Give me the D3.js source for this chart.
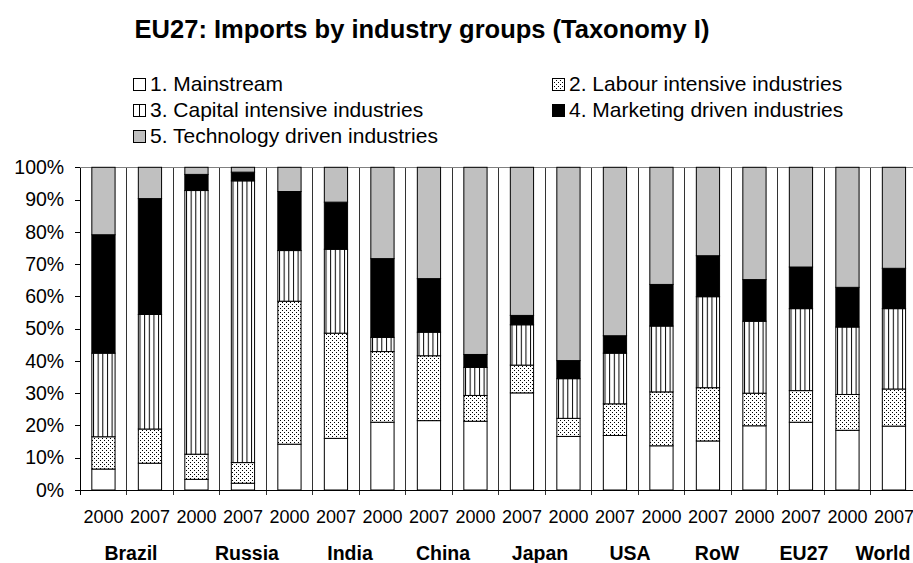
<!DOCTYPE html>
<html>
<head>
<meta charset="utf-8">
<script src="https://cdn.jsdelivr.net/npm/d3@7"></script>
<style>
  html, body { margin: 0; padding: 0; background: #fff; }
  svg { display: block; font-family: "Liberation Sans", Arial, sans-serif; }
</style>
</head>
<body>
<svg id="chart" width="913" height="563"></svg>
<script>
// ---- data ----
const countries = ["Brazil", "Russia", "India", "China", "Japan", "USA", "RoW", "EU27", "World"];
const years = ["2000", "2007"];
const seriesNames = [
  "1. Mainstream",
  "2. Labour intensive industries",
  "3. Capital intensive industries",
  "4. Marketing driven industries",
  "5. Technology driven industries"
];
// shares (%) in order: Brazil 2000, Brazil 2007, Russia 2000, Russia 2007, ...
const mainstream = [6.5, 8.3, 3.3, 2.1, 14.2, 16.0, 21.0, 21.5, 21.3, 30.1, 16.6, 16.9, 13.7, 15.2, 19.9, 21.0, 18.5, 19.8];
const labour     = [10.0, 10.6, 7.8, 6.4, 44.3, 32.6, 21.9, 20.1, 8.0, 8.6, 5.6, 9.8, 16.7, 16.5, 10.1, 9.8, 11.1, 11.5];
const capital    = [25.9, 35.5, 81.7, 87.3, 15.7, 26.0, 4.4, 7.3, 8.7, 12.5, 12.3, 15.7, 20.4, 28.2, 22.3, 25.4, 20.9, 24.9];
const marketing  = [36.7, 35.9, 5.0, 2.7, 18.3, 14.6, 24.4, 16.6, 4.0, 2.9, 5.6, 5.4, 12.9, 12.7, 12.9, 12.9, 12.3, 12.5];
const technology = [20.9, 9.7, 2.2, 1.5, 7.5, 10.8, 28.3, 34.5, 58.0, 45.9, 59.9, 52.2, 36.3, 27.4, 34.8, 30.9, 37.2, 31.3];
const yTickValues = [0, 10, 20, 30, 40, 50, 60, 70, 80, 90, 100];

// ---- layout ----
const svg = d3.select("#chart");
const plotL = 80.2, plotR = 917.2, plotT = 167.3, plotB = 490;

const keys = ["s1", "s2", "s3", "s4", "s5"];
const rows = [];
countries.forEach((c, ci) => years.forEach((yr, yi) => {
  const i = ci * 2 + yi;
  rows.push({ id: c + " " + yr, country: c, year: yr,
    s1: mainstream[i], s2: labour[i], s3: capital[i], s4: marketing[i], s5: technology[i] });
}));

const x = d3.scaleBand().domain(rows.map(d => d.id)).range([plotL, plotR]).paddingInner(0).paddingOuter(0);
const y = d3.scaleLinear().domain([0, 100]).range([plotB, plotT]);
const bw = x.bandwidth() * 0.5;

// ---- patterns ----
const defs = svg.append("defs");
const dots = defs.append("pattern").attr("id", "dots").attr("patternUnits", "userSpaceOnUse")
  .attr("width", 4).attr("height", 4);
dots.append("rect").attr("width", 4).attr("height", 4).attr("fill", "#fff");
dots.append("rect").attr("x", 0).attr("y", 0).attr("width", 1).attr("height", 1).attr("fill", "#000");
dots.append("rect").attr("x", 2).attr("y", 2).attr("width", 1).attr("height", 1).attr("fill", "#000");

const stripes = defs.append("pattern").attr("id", "stripes").attr("patternUnits", "userSpaceOnUse")
  .attr("width", 4.65).attr("height", 10);
stripes.append("rect").attr("width", 4.65).attr("height", 10).attr("fill", "#fff");
stripes.append("rect").attr("x", 0).attr("y", 0).attr("width", 1).attr("height", 10).attr("fill", "#000");

const fills = { s1: "#ffffff", s2: "url(#dots)", s3: "url(#stripes)", s4: "#000000", s5: "#c0c0c0" };

// ---- title ----
svg.append("text").attr("x", 422).attr("y", 38).attr("text-anchor", "middle")
  .attr("font-size", 25.5).attr("font-weight", "bold").attr("fill", "#000")
  .text("EU27: Imports by industry groups (Taxonomy I)");

// ---- legend ----
const legendPos = [
  { k: "s1", x: 133, y: 91 }, { k: "s2", x: 552, y: 91 },
  { k: "s3", x: 133, y: 117 }, { k: "s4", x: 552, y: 117 },
  { k: "s5", x: 133, y: 143 }
];
const lg = svg.append("g");
legendPos.forEach((p, i) => {
  const isStripe = p.k === "s3";
  lg.append("rect").attr("x", p.x + 0.5).attr("y", p.y - 12.5).attr("width", 12).attr("height", 12)
    .attr("fill", isStripe ? "#fff" : fills[p.k]).attr("stroke", "#000").attr("stroke-width", 1);
  if (isStripe) {
    lg.append("line").attr("x1", p.x + 6.5).attr("x2", p.x + 6.5).attr("y1", p.y - 12.5).attr("y2", p.y - 0.5)
      .attr("stroke", "#000").attr("stroke-width", 1);
  }
  lg.append("text").attr("x", p.x + 17).attr("y", p.y).attr("font-size", 21).attr("fill", "#000")
    .text(seriesNames[i]);
});

// ---- gridlines (category boundaries) ----
const bounds = rows.map(d => x(d.id)).concat([plotR]);
svg.append("g").selectAll("line").data(bounds.slice(1)).join("line")
  .attr("x1", d => d).attr("x2", d => d).attr("y1", plotT).attr("y2", plotB + 5)
  .attr("stroke", "#333").attr("stroke-width", 1).attr("shape-rendering", "crispEdges");

// top border
svg.append("line").attr("x1", plotL).attr("x2", plotR).attr("y1", plotT).attr("y2", plotT)
  .attr("stroke", "#808080").attr("stroke-width", 1).attr("shape-rendering", "crispEdges");

// ---- bars ----
const stack = d3.stack().keys(keys);
const series = stack(rows);
svg.append("g").selectAll("g").data(series).join("g")
  .attr("fill", s => fills[s.key])
  .selectAll("rect").data(s => s).join("rect")
  .attr("x", d => x(d.data.id) + (x.bandwidth() - bw) / 2)
  .attr("width", bw)
  .attr("y", d => y(d[1]))
  .attr("height", d => y(d[0]) - y(d[1]))
  .attr("stroke", "#000").attr("stroke-width", 1);

// ---- axes ----
const yAxis = d3.axisLeft(y).tickValues(yTickValues).tickFormat(d => d + "%").tickSize(5).tickSizeOuter(0).tickPadding(11);
const ya = svg.append("g").attr("transform", `translate(${plotL},0)`).call(yAxis);
ya.selectAll("text").attr("font-size", 19.5).attr("font-family", "Liberation Sans, Arial, sans-serif").attr("fill", "#000");
ya.selectAll("line, path").attr("stroke", "#000").attr("shape-rendering", "crispEdges");

// bottom axis line + tick at left edge
svg.append("line").attr("x1", plotL).attr("x2", plotR).attr("y1", plotB).attr("y2", plotB)
  .attr("stroke", "#000").attr("shape-rendering", "crispEdges");
svg.append("line").attr("x1", plotL).attr("x2", plotL).attr("y1", plotB).attr("y2", plotB + 5)
  .attr("stroke", "#000").attr("shape-rendering", "crispEdges");

// year labels
svg.append("g").selectAll("text").data(rows).join("text")
  .attr("x", d => x(d.id) + x.bandwidth() / 2).attr("y", 523)
  .attr("text-anchor", "middle").attr("font-size", 18).attr("fill", "#000")
  .text(d => d.year);

// country labels (placed as in the source, not exactly centred on groups)
const countryLabelX = [131, 247, 350, 443, 540, 630, 717, 804, 883];
svg.append("g").selectAll("text").data(countries).join("text")
  .attr("x", (d, i) => countryLabelX[i]).attr("y", 560)
  .attr("text-anchor", "middle")
  .attr("font-size", 19.5).attr("font-weight", "bold").attr("fill", "#000")
  .text(d => d);
</script>
</body>
</html>
